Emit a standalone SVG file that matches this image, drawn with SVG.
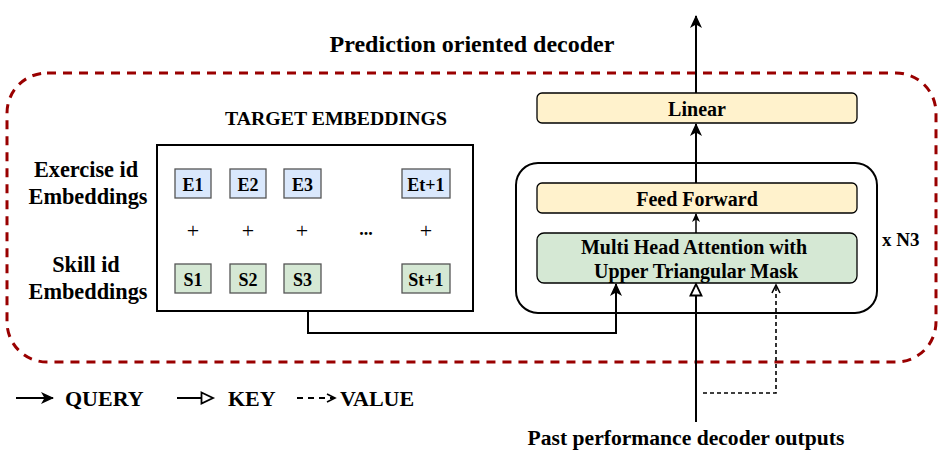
<svg xmlns="http://www.w3.org/2000/svg" width="944" height="459" viewBox="0 0 944 459">
<style>
text{font-family:"Liberation Serif","Times New Roman",serif;font-weight:bold;fill:#000;}
.c{text-anchor:middle;}
.ln{fill:none;stroke:#000;stroke-width:2;}
.emb{fill:#dae8fc;stroke:#555;stroke-width:1.3;}
.sk{fill:#d5e8d4;stroke:#555;stroke-width:1.3;}
.blk{stroke:#000;stroke-width:1.3;}
.pl{font-weight:normal;font-size:22px;}
</style>
<defs>
<marker id="fil" markerUnits="userSpaceOnUse" markerWidth="14" markerHeight="14" refX="12" refY="6" orient="auto">
<path d="M0,0 L13,6 L0,12 L3.5,6 z" fill="#000"/>
</marker>
<marker id="filS" markerUnits="userSpaceOnUse" markerWidth="10" markerHeight="10" refX="8" refY="4" orient="auto">
<path d="M0,0 L9,4 L0,8 L2.5,4 z" fill="#000"/>
</marker>
<marker id="opn" markerUnits="userSpaceOnUse" markerWidth="16" markerHeight="16" refX="13" refY="7" orient="auto">
<path d="M1.5,1.5 L13,7 L1.5,12.5 z" fill="#fff" stroke="#000" stroke-width="1.8"/>
</marker>
<marker id="chev" markerUnits="userSpaceOnUse" markerWidth="12" markerHeight="12" refX="9" refY="5" orient="auto">
<path d="M1,1 L9,5 L1,9" fill="none" stroke="#000" stroke-width="1.6"/>
</marker>
</defs>

<rect x="7" y="73" width="929" height="289" rx="40" fill="none" stroke="#990000" stroke-width="3" stroke-dasharray="9 7"/>
<text class="c" x="472" y="52" font-size="24">Prediction oriented decoder</text>

<g id="labels">
<text class="c" x="86" y="177" font-size="22.3">Exercise id</text>
<text class="c" x="88" y="204" font-size="22.3">Embeddings</text>
<text class="c" x="86" y="272" font-size="22.3">Skill id</text>
<text class="c" x="88" y="299" font-size="22.3">Embeddings</text>
</g>

<g id="target">
<text class="c" x="336" y="125" font-size="19.8">TARGET EMBEDDINGS</text>
<rect x="157" y="145" width="316" height="166" fill="#fff" stroke="#000" stroke-width="2"/>
</g>
<g id="E1"><rect class="emb" x="175" y="169" width="36" height="29"/><text class="c" x="193" y="191" font-size="18">E1</text></g>
<g id="E2"><rect class="emb" x="230" y="169" width="36" height="29"/><text class="c" x="248" y="191" font-size="18">E2</text></g>
<g id="E3"><rect class="emb" x="284" y="169" width="37" height="29"/><text class="c" x="302.5" y="191" font-size="18">E3</text></g>
<g id="Et1"><rect class="emb" x="402" y="169" width="48" height="29"/><text class="c" x="426" y="191" font-size="18">Et+1</text></g>
<g id="S1"><rect class="sk" x="175" y="264" width="36" height="29"/><text class="c" x="193" y="286" font-size="18">S1</text></g>
<g id="S2"><rect class="sk" x="230" y="264" width="36" height="29"/><text class="c" x="248" y="286" font-size="18">S2</text></g>
<g id="S3"><rect class="sk" x="284" y="264" width="37" height="29"/><text class="c" x="302.5" y="286" font-size="18">S3</text></g>
<g id="St1"><rect class="sk" x="402" y="264" width="48" height="29"/><text class="c" x="426" y="286" font-size="18">St+1</text></g>
<g id="plus">
<text class="c pl" x="193" y="238">+</text>
<text class="c pl" x="248" y="238">+</text>
<text class="c pl" x="302" y="238">+</text>
<text class="c" x="366" y="235" font-size="18">...</text>
<text class="c pl" x="426" y="238">+</text>
</g>

<g id="stack">
<rect x="516" y="163" width="361" height="150" rx="22" fill="#fff" stroke="#000" stroke-width="2"/>
<text x="882" y="246" font-size="19">x N3</text>
</g>
<g id="linear"><rect class="blk" x="537" y="93" width="320" height="30" rx="5" fill="#fff2cc"/><text class="c" x="697" y="116" font-size="20">Linear</text></g>
<g id="ff"><rect class="blk" x="537" y="183" width="320" height="30" rx="5" fill="#fff2cc"/><text class="c" x="697" y="206" font-size="20">Feed Forward</text></g>
<g id="mha"><rect class="blk" x="537" y="233" width="320" height="50" rx="7" fill="#d5e8d4"/><text class="c" x="694" y="254" font-size="20">Multi Head Attention with</text><text class="c" x="696" y="278" font-size="20">Upper Triangular Mask</text></g>

<g id="connectors">
<path class="ln" d="M696,93 V16" marker-end="url(#fil)"/>
<path class="ln" d="M696,183 V124" marker-end="url(#fil)"/>
<path d="M696,233 V214" fill="none" stroke="#000" stroke-width="1.5" marker-end="url(#filS)"/>
<path class="ln" d="M308,312 V333 H616 V284" marker-end="url(#fil)"/>
<path class="ln" d="M696,422 V284" marker-end="url(#opn)"/>
<path d="M703,393 H776 V285" fill="none" stroke="#000" stroke-width="1.6" stroke-dasharray="4 3" marker-end="url(#chev)"/>
</g>

<text class="c" x="686" y="445" font-size="21.6">Past performance decoder outputs</text>

<g id="legend">
<path class="ln" d="M16,398 H53" marker-end="url(#fil)"/>
<text x="65" y="406" font-size="22">QUERY</text>
<path class="ln" d="M177,398 H213" marker-end="url(#opn)"/>
<text x="228" y="406" font-size="22">KEY</text>
<path d="M297,398 H335" fill="none" stroke="#000" stroke-width="2" stroke-dasharray="6 5" marker-end="url(#chev)"/>
<text x="340" y="406" font-size="22">VALUE</text>
</g>
</svg>
